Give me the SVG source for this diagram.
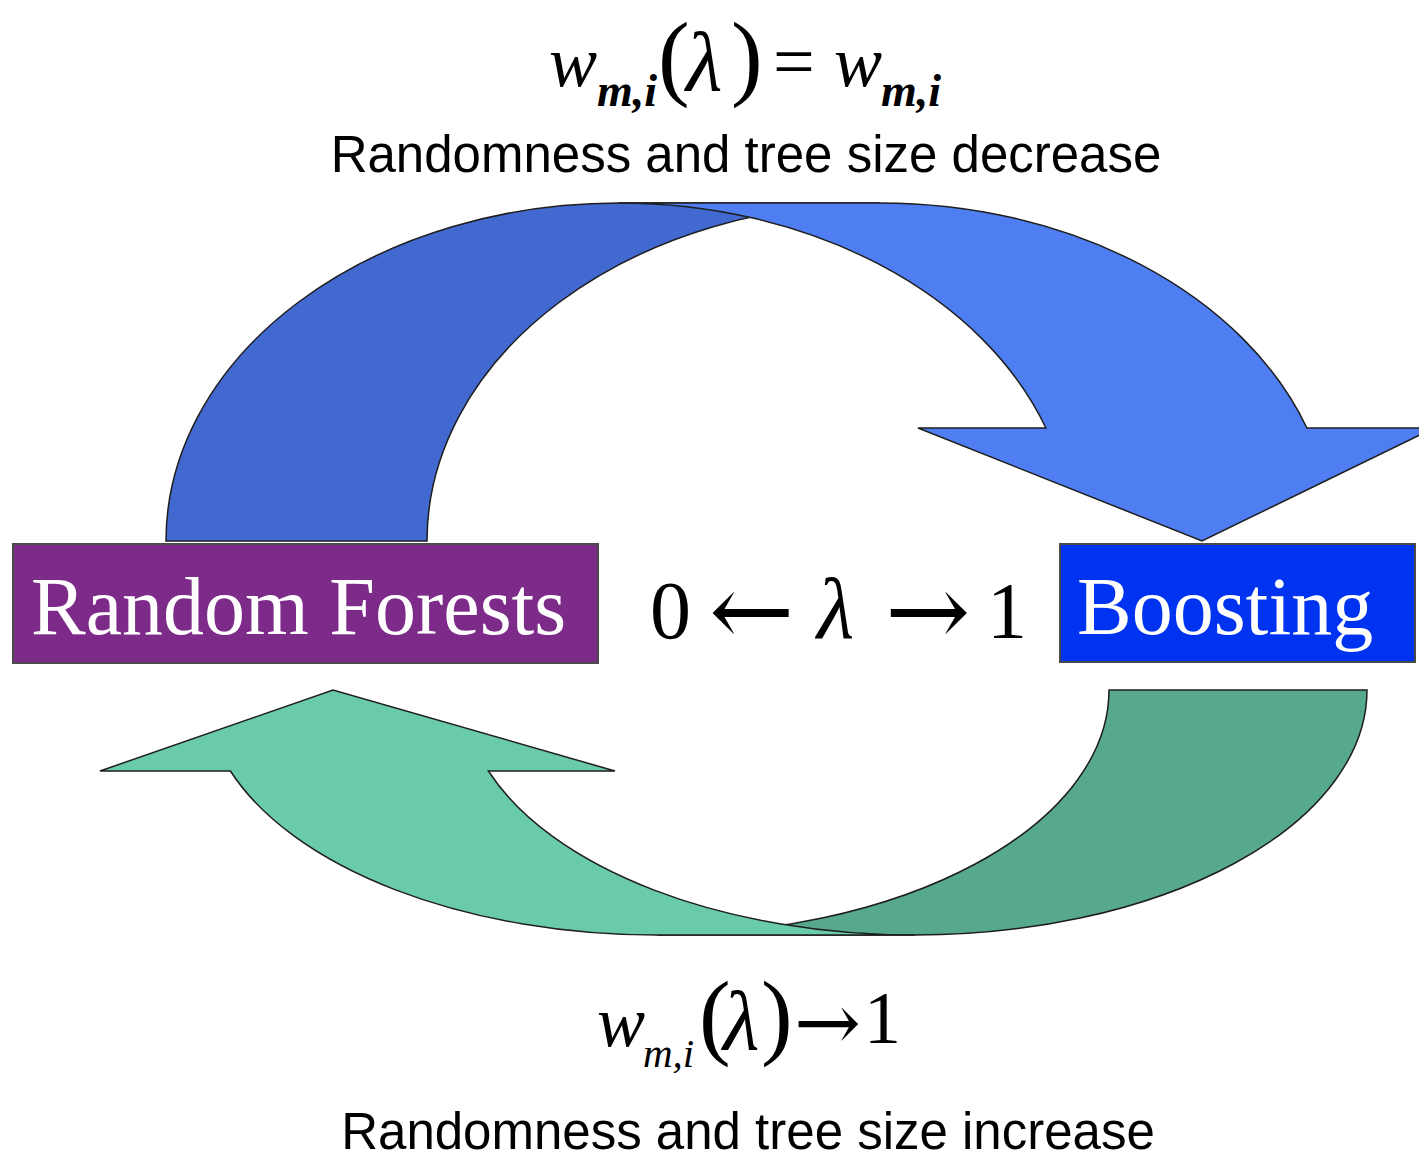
<svg xmlns="http://www.w3.org/2000/svg" width="1419" height="1156" viewBox="0 0 1419 1156">
  <style>
    .band { stroke: #1e1e1e; stroke-width: 1.5; stroke-linejoin: miter; }
    .box { stroke: #4a4a4a; stroke-width: 2; }
    .lbl { font-family: "Liberation Serif", "Times New Roman", serif; font-size: 82px; fill: #ffffff; }
    .cap { font-family: "Liberation Sans", Arial, sans-serif; font-size: 51px; fill: #000000; text-anchor: middle; }
    .m { font-family: "Liberation Serif", "Times New Roman", serif; fill: #000000; }
    .arr { font-family: "DejaVu Serif", "DejaVu Sans", serif; }
    .it { font-style: italic; }
    .sub { font-style: italic; font-weight: bold; }
  </style>

  <rect width="1419" height="1156" fill="#ffffff"/>

  <!-- curved arrows between the two methods -->
  <g id="connectors">
    <!-- upper arrow: Random Forests -> Boosting -->
    <path class="band" fill="#4169D0"
          d="M166,541 A453,338 0 0 1 619,203 L880,203 A453,338 0 0 0 427,541 Z"/>
    <path class="band" fill="#4F7EF2"
          d="M619,203 L880,203 A453,338 0 0 1 1306.9,428 L1434,428 L1202,541 L918,428 L1045.9,428 A453,338 0 0 0 619,203 Z"/>
    <!-- lower arrow: Boosting -> Random Forests -->
    <path class="band" fill="#57A98B"
          d="M1367,690 A452,245 0 0 1 915,935 L657,935 A452,245 0 0 0 1109,690 Z"/>
    <path class="band" fill="#6ACBA8"
          d="M657,935 A452,245 0 0 1 230.4,771 L100,771 L333,690 L615,771 L488.4,771 A452,245 0 0 0 915,935 Z"/>
  </g>

  <g id="random-forests">
    <rect class="box" x="13" y="544" width="585" height="119" fill="#7D2B89"/>
    <text class="lbl" x="31" y="634">Random Forests</text>
  </g>

  <g id="boosting">
    <rect class="box" x="1060" y="544" width="355" height="118" fill="#0033F0"/>
    <text class="lbl" x="1077" y="634">Boosting</text>
  </g>

  <!-- lambda range between the boxes -->
  <g id="lambda-range" class="m">
    <text x="650" y="638" font-size="82">0</text>
    <text class="arr" x="709" y="646" font-size="102">←</text>
    <text class="it" x="817" y="638" font-size="86">λ</text>
    <text class="arr" x="885" y="646" font-size="102">→</text>
    <text x="987" y="638" font-size="80">1</text>
  </g>

  <!-- upper formula and caption -->
  <g id="top-label" class="m">
    <text class="it" x="549" y="86" font-size="72">w</text>
    <text class="sub" x="597" y="106" font-size="46">m,i</text>
    <text x="658" y="88" font-size="95">(</text>
    <text class="it" x="686" y="90" font-size="84">λ</text>
    <text x="731" y="88" font-size="95">)</text>
    <text x="773" y="86" font-size="74">=</text>
    <text class="it" x="834" y="86" font-size="72">w</text>
    <text class="sub" x="881" y="106" font-size="46">m,i</text>
  </g>
  <text class="cap" x="746" y="172">Randomness and tree size decrease</text>

  <!-- lower formula and caption -->
  <g id="bottom-label" class="m">
    <text class="it" x="597" y="1046" font-size="72">w</text>
    <text class="it" x="643" y="1067" font-size="41">m,i</text>
    <text x="699" y="1047" font-size="95">(</text>
    <text class="it" x="723" y="1049" font-size="84">λ</text>
    <text x="761" y="1047" font-size="95">)</text>
    <text class="arr" x="794" y="1050" font-size="80">→</text>
    <text x="864" y="1043" font-size="74">1</text>
  </g>
  <text class="cap" x="748" y="1149">Randomness and tree size increase</text>
</svg>
